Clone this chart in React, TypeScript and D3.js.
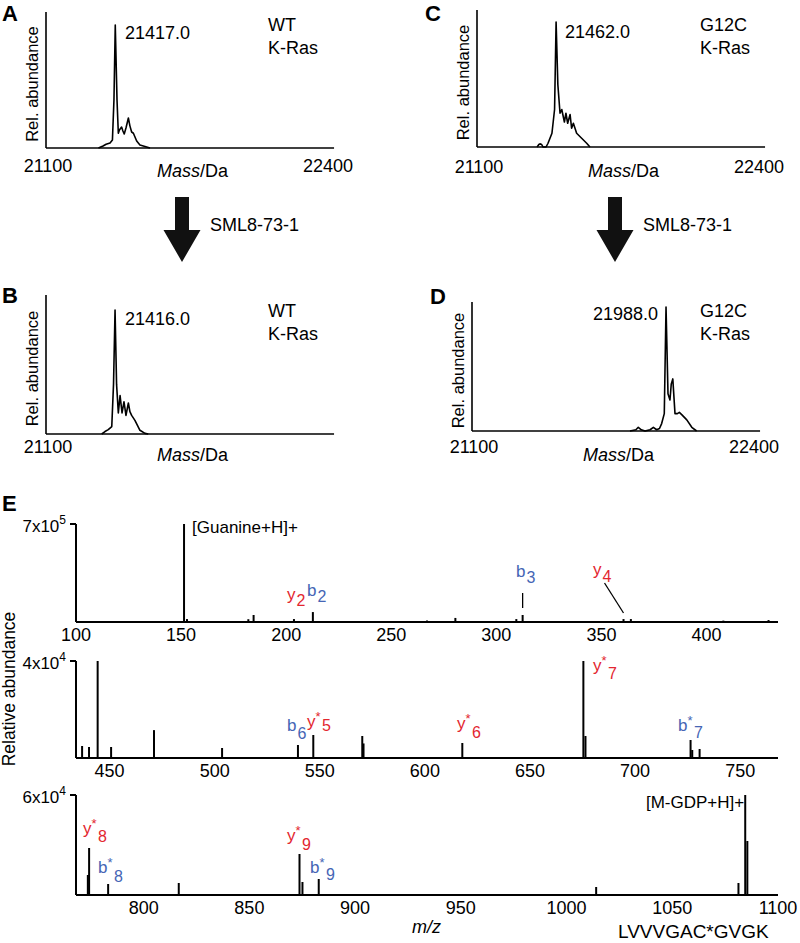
import React from 'react';
import * as d3 from 'd3';

const FONT = '"Liberation Sans", Arial, Helvetica, sans-serif';
const RED = '#e3262f';
const BLUE = '#4565b5';

// ---------- Deconvoluted intact-protein spectra (A-D) ----------
const massDomain = [21100, 22400];
const massTickLabels = ['21100', '22400'];

const wtBeforeMass = [21340, 21361, 21375, 21393, 21404, 21411, 21417, 21425, 21431, 21436, 21446, 21452, 21458, 21466, 21477, 21484, 21492, 21500, 21515, 21530, 21553, 21576];
const wtBeforeInt = [0, 0.016, 0.03, 0.04, 0.065, 0.39, 1.0, 0.39, 0.12, 0.146, 0.17, 0.138, 0.114, 0.163, 0.244, 0.18, 0.13, 0.12, 0.057, 0.024, 0.012, 0];

const wtAfterMass = [21355, 21370, 21385, 21401, 21409, 21416, 21423, 21431, 21439, 21448, 21457, 21466, 21477, 21484, 21492, 21507, 21530, 21553, 21568];
const wtAfterInt = [0, 0.02, 0.035, 0.06, 0.4, 1.0, 0.4, 0.17, 0.31, 0.17, 0.26, 0.15, 0.25, 0.18, 0.15, 0.11, 0.03, 0.005, 0];

const g12cBeforeMass = [21375, 21383, 21388, 21396, 21402, 21416, 21425, 21443, 21455, 21462, 21470, 21480, 21488, 21500, 21507, 21515, 21526, 21533, 21541, 21556, 21579, 21602, 21617];
const g12cBeforeInt = [0, 0.02, 0.025, 0.02, 0, 0, 0.03, 0.11, 0.3, 1.0, 0.5, 0.27, 0.3, 0.2, 0.27, 0.19, 0.26, 0.15, 0.19, 0.11, 0.07, 0.03, 0];

const g12cAfterMass = [21823, 21850, 21861, 21875, 21892, 21915, 21930, 21945, 21958, 21968, 21980, 21988, 21997, 22006, 22012, 22019, 22029, 22040, 22049, 22061, 22083, 22106, 22128];
const g12cAfterInt = [0, 0.01, 0.03, 0.01, 0, 0.01, 0.03, 0.01, 0.02, 0.06, 0.14, 1.0, 0.3, 0.25, 0.38, 0.42, 0.14, 0.14, 0.15, 0.13, 0.09, 0.03, 0];

const peakLabels = ['21417.0', '21416.0', '21462.0', '21988.0'];
const variantLabels = ['WT', 'WT', 'G12C', 'G12C'];
const treatmentLabel = 'SML8-73-1';

// ---------- MS/MS spectrum (E) ----------
const ms1Mz = [110, 117, 129, 134, 138.6, 146, 151.4, 152.8, 172, 182, 184.5, 189, 203.7, 212.7, 267, 280.5, 309.5, 312.5, 360.5, 364, 386.7, 408, 429.5];
const ms1Int = [7e3, 5e3, 7e3, 5e3, 5e3, 5e3, 7e5, 2.1e4, 5e3, 2e4, 5e4, 5e3, 2.1e4, 7.1e4, 1e4, 2.9e4, 2.1e4, 5e4, 2.1e4, 2.1e4, 7e3, 1e4, 1.4e4];

const ms2Mz = [436.9, 440.2, 444.3, 450.7, 471.1, 503.5, 539.6, 546.9, 570.2, 570.8, 617.8, 675.4, 676.4, 726.4, 727.2, 730.7];
const ms2Int = [4950, 4540, 40000, 4540, 11500, 4120, 5360, 9480, 9070, 6000, 6190, 40000, 9070, 7420, 3300, 3710];

const ms3Mz = [773.6, 774.2, 783.2, 816.6, 873.7, 875.1, 882.8, 1014, 1081.3, 1084.5, 1085.5];
const ms3Int = [12000, 28200, 6600, 7200, 24600, 7800, 9600, 4800, 7200, 60000, 32400];

const stripDomains = [[100, 434], [434, 768], [768, 1100]];
const stripTicks = [[100, 150, 200, 250, 300, 350, 400], [450, 500, 550, 600, 650, 700, 750], [800, 850, 900, 950, 1000, 1050, 1100]];
const stripMaxMantissa = ['7', '4', '6'];
const stripMaxExp = ['5', '4', '4'];
const stripMax = [7e5, 4e4, 6e4];
const peptide = 'LVVVGAC*GVGK';

// ion annotations
const ionLetter = ['y', 'b', 'b', 'y', 'b', 'y', 'y', 'y', 'b', 'y', 'b', 'y', 'b'];
const ionStar = [false, false, false, false, false, true, true, true, true, true, true, true, true];
const ionIndex = ['2', '2', '3', '4', '6', '5', '6', '7', '7', '8', '8', '9', '9'];

// ---------- Layout (positions / sizes) ----------
const topPanels = [
  { key: 'A', mass: wtBeforeMass, inten: wtBeforeInt, left: 46, axisTop: 12, bottom: 148, peakTop: 25, letterX: 2, letterY: 21, tickY: 172, massY: 177, peakLX: 125, peakLY: 39, anchor: 'start', varX: 268, varY: 31, showEnd: true },
  { key: 'B', mass: wtAfterMass, inten: wtAfterInt, left: 46, axisTop: 295, bottom: 434, peakTop: 310, letterX: 2, letterY: 303, tickY: 453, massY: 461, peakLX: 125, peakLY: 325, anchor: 'start', varX: 268, varY: 317, showEnd: false },
  { key: 'C', mass: g12cBeforeMass, inten: g12cBeforeInt, left: 477, axisTop: 10, bottom: 147, peakTop: 22, letterX: 425, letterY: 21, tickY: 173, massY: 177, peakLX: 565, peakLY: 38, anchor: 'start', varX: 700, varY: 31, showEnd: true },
  { key: 'D', mass: g12cAfterMass, inten: g12cAfterInt, left: 472, axisTop: 302, bottom: 431, peakTop: 307, letterX: 430, letterY: 304, tickY: 453, massY: 461, peakLX: 658, peakLY: 320, anchor: 'end', varX: 700, varY: 317, showEnd: true },
];
const PX_PER_DA = 0.2185;

const arrows = [
  { cx: 182, textX: 210 },
  { cx: 615, textX: 643 },
];

const stripLayout = [
  { top: 524, bottom: 622, mz: ms1Mz, inten: ms1Int },
  { top: 661, bottom: 758, mz: ms2Mz, inten: ms2Int },
  { top: 795, bottom: 895, mz: ms3Mz, inten: ms3Int },
];
const E_LEFT = 76;
const E_RIGHT = 778;

const ionPos = [
  [287, 600, 6], [307, 596, 6], [516, 577, 6], [593, 575, 7],
  [287, 731, 8], [307, 727, 4], [457, 729, 9], [593, 671, 8], [678, 731, 7],
  [83, 834, 8], [98, 873, 9], [287, 841, 9], [310, 873, 7],
];

function TopPanel({ p, i }: any) {
  const x = d3.scaleLinear().domain(massDomain).range([p.left, p.left + (massDomain[1] - massDomain[0]) * PX_PER_DA]);
  const y = d3.scaleLinear().domain([0, 1]).range([p.bottom, p.peakTop]);
  const pts = p.mass.map((m: number, k: number) => [m, p.inten[k]]);
  const line = d3.line<any>().x((d) => x(d[0])).y((d) => y(d[1]));
  const axisEnd = x(massDomain[1]) + 4;
  const midY = (p.axisTop + p.bottom) / 2 + 4;
  return (
    <g>
      <text x={p.letterX} y={p.letterY} fontSize={22} fontWeight="bold">{p.key}</text>
      <line x1={p.left} x2={p.left} y1={p.axisTop} y2={p.bottom} stroke="#000" strokeWidth={1.6} />
      <line x1={p.left} x2={axisEnd} y1={p.bottom} y2={p.bottom} stroke="#000" strokeWidth={1.6} />
      <path d={line(pts) || ''} fill="none" stroke="#000" strokeWidth={1.6} strokeLinejoin="round" />
      <text transform={`translate(${p.left - 8},${midY}) rotate(-90)`} textAnchor="middle" fontSize={16.5}>Rel. abundance</text>
      <text x={x(massDomain[0]) + 2} y={p.tickY} textAnchor="middle" fontSize={18}>{massTickLabels[0]}</text>
      {p.showEnd && <text x={x(massDomain[1]) - 2} y={p.tickY} textAnchor="middle" fontSize={18}>{massTickLabels[1]}</text>}
      <text x={p.left + 111} y={p.massY} fontSize={18}><tspan fontStyle="italic">Mass</tspan>/Da</text>
      <text x={p.peakLX} y={p.peakLY} textAnchor={p.anchor} fontSize={18}>{peakLabels[i]}</text>
      <text x={p.varX} y={p.varY} fontSize={18}>{variantLabels[i]}</text>
      <text x={p.varX} y={p.varY + 23} fontSize={18}>K-Ras</text>
    </g>
  );
}

function Arrow({ a }: any) {
  const top = 197, neck = 230, tip = 262, sw = 7, hw = 18.5;
  const pts = [[a.cx - sw, top], [a.cx + sw, top], [a.cx + sw, neck], [a.cx + hw, neck], [a.cx, tip], [a.cx - hw, neck], [a.cx - sw, neck]];
  return (
    <g>
      <polygon points={pts.map((q) => q.join(',')).join(' ')} fill="#111" />
      <text x={a.textX} y={231} fontSize={18}>{treatmentLabel}</text>
    </g>
  );
}

function Strip({ s, i }: any) {
  const x = d3.scaleLinear().domain(stripDomains[i]).range([E_LEFT, E_RIGHT]);
  const y = d3.scaleLinear().domain([0, stripMax[i]]).range([s.bottom, s.top]);
  return (
    <g>
      <line x1={E_LEFT} x2={E_LEFT} y1={s.top} y2={s.bottom} stroke="#000" strokeWidth={2} />
      <line x1={E_LEFT - 6} x2={E_LEFT} y1={s.top} y2={s.top} stroke="#000" strokeWidth={2} />
      <line x1={E_LEFT} x2={E_RIGHT} y1={s.bottom} y2={s.bottom} stroke="#000" strokeWidth={2} />
      {s.mz.map((m: number, k: number) => (
        <line key={k} x1={x(m)} x2={x(m)} y1={s.bottom} y2={y(s.inten[k])} stroke="#000" strokeWidth={2} />
      ))}
      {stripTicks[i].map((t: number) => (
        <text key={t} x={x(t)} y={s.bottom + 19} textAnchor="middle" fontSize={18}>{t}</text>
      ))}
      <text x={E_LEFT - 10} y={s.top + 8} textAnchor="end" fontSize={17}>
        {stripMaxMantissa[i]}x10<tspan dy={-8} fontSize={12}>{stripMaxExp[i]}</tspan>
      </text>
    </g>
  );
}

function Ion({ k }: any) {
  const [px, py, subDy] = ionPos[k];
  const color = ionLetter[k] === 'y' ? RED : BLUE;
  const w = ionLetter[k] === 'y' ? 8.5 : 9.5;
  const subX = ionStar[k] ? px + w + 6.5 : px + w + 1;
  return (
    <g fill={color} fontSize={17}>
      <text x={px} y={py}>{ionLetter[k]}</text>
      {ionStar[k] && <text x={px + w} y={py - 6} fontSize={13}>*</text>}
      <text x={subX} y={py + subDy} fontSize={16}>{ionIndex[k]}</text>
    </g>
  );
}

export default function App() {
  const x1 = d3.scaleLinear().domain(stripDomains[0]).range([E_LEFT, E_RIGHT]);
  const y1 = d3.scaleLinear().domain([0, stripMax[0]]).range([stripLayout[0].bottom, stripLayout[0].top]);
  const x3 = d3.scaleLinear().domain(stripDomains[2]).range([E_LEFT, E_RIGHT]);
  const y3 = d3.scaleLinear().domain([0, stripMax[2]]).range([stripLayout[2].bottom, stripLayout[2].top]);
  return (
    <svg width={800} height={943} style={{ position: 'absolute', left: 0, top: 0, background: '#fff' }} fontFamily={FONT}>
      <rect width={800} height={943} fill="#fff" />
      {topPanels.map((p, i) => <TopPanel key={p.key} p={p} i={i} />)}
      {arrows.map((a, i) => <Arrow key={i} a={a} />)}

      <text x={2} y={511} fontSize={22} fontWeight="bold">E</text>
      {stripLayout.map((s, i) => <Strip key={i} s={s} i={i} />)}
      <text x={x1(151.4) + 8} y={y1(7e5) + 9} fontSize={17}>[Guanine+H]+</text>
      <text x={x3(1084.5) - 1} y={y3(6e4) + 13} textAnchor="end" fontSize={17}>[M-GDP+H]+</text>
      <line x1={x1(312.5)} x2={x1(312.5)} y1={593} y2={608} stroke="#000" strokeWidth={1.3} />
      <line x1={x1(360.5) - 19} y1={583} x2={x1(360.5)} y2={613} stroke="#000" strokeWidth={1.3} />
      {ionLetter.map((_, k) => <Ion key={k} k={k} />)}
      <text transform="translate(15,689) rotate(-90)" textAnchor="middle" fontSize={17.5}>Relative abundance</text>
      <text x={412} y={933} fontSize={18} fontStyle="italic">m/z</text>
      <text x={618} y={938} fontSize={19}>{peptide}</text>
    </svg>
  );
}
